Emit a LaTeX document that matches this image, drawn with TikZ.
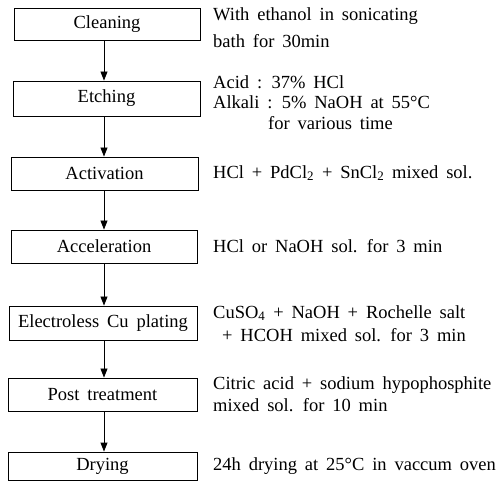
\documentclass[tikz,border=0pt]{standalone}
\usepackage{fontspec}
\setmainfont{Liberation Serif}[WordSpace=1.7]
\usetikzlibrary{arrows.meta}
\begin{document}
\begin{tikzpicture}[x=1pt,y=-1pt,
  stepbox/.style={draw,line width=0.9pt,inner sep=0pt,anchor=center,font=\fontsize{18.5}{20}\selectfont},
  note/.style={anchor=west,inner sep=0pt,font=\fontsize{18.5}{20}\selectfont},
  flow/.style={line width=0.9pt,-{Triangle[width=7pt,length=9pt]}}]
\useasboundingbox (0,0) rectangle (501,486);
\node[stepbox,minimum width=186pt,minimum height=32pt] (clean) at (107,24) {Cleaning};
\node[stepbox,minimum width=187pt,minimum height=35pt] (etch) at (106.5,98.5) {Etching};
\node[stepbox,minimum width=187pt,minimum height=33pt] (activ) at (104.5,173.5) {Activation};
\node[stepbox,minimum width=186pt,minimum height=33pt] (accel) at (104,246.5) {Acceleration};
\node[stepbox,minimum width=188pt,minimum height=34pt] (elec) at (103,323) {Electroless Cu plating};
\node[stepbox,minimum width=189pt,minimum height=33pt] (post) at (102.5,394.5) {Post treatment};
\node[stepbox,minimum width=189pt,minimum height=28pt] (dry) at (102.5,466) {Drying};
\coordinate (ax) at (104,0);
\draw[flow] (clean.south -| ax) -- (etch.north -| ax);
\draw[flow] (etch.south -| ax) -- (activ.north -| ax);
\draw[flow] (activ.south -| ax) -- (accel.north -| ax);
\draw[flow] (accel.south -| ax) -- (elec.north -| ax);
\draw[flow] (elec.south -| ax) -- (post.north -| ax);
\draw[flow] (post.south -| ax) -- (dry.north -| ax);
\node[note] (n1a) at (213,16) {With ethanol in sonicating};
\node[note] (n1b) at (213,41) {bath for 30min};
\node[note] (n2a) at (213,82) {Acid : 37\% HCl};
\node[note] (n2b) at (213,102) {Alkali : 5\% NaOH at 55°C};
\node[note] (n2c) at (268,123) {for various time};
\node[note] (n3) at (213,173) {HCl + PdCl\textsubscript{2} + SnCl\textsubscript{2} mixed sol.};
\node[note] (n4) at (213,246) {HCl or NaOH sol. for 3 min};
\node[note] (n5a) at (213,313) {CuSO\textsubscript{4} + NaOH + Rochelle salt};
\node[note] (n5b) at (222,335) {+ HCOH mixed sol. for 3 min};
\node[note] (n6a) at (213,385) {Citric acid + sodium hypophosphite};
\node[note] (n6b) at (213,405) {mixed sol. for 10 min};
\node[note] (n7) at (213,466) {24h drying at 25°C in vaccum oven};
\end{tikzpicture}
\end{document}
